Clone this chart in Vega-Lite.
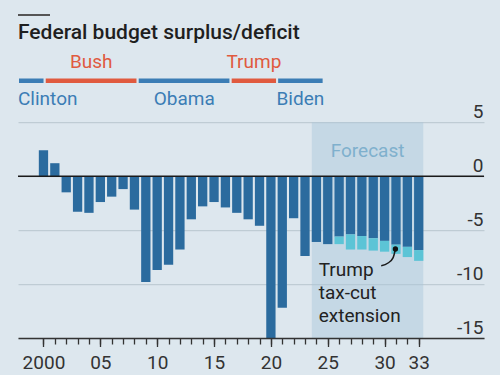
{
  "$schema": "https://vega.github.io/schema/vega-lite/v6.json",
  "background": "#dde7ee",
  "padding": {"left": 17, "right": 17, "top": 14, "bottom": 3},
  "bounds": "flush",
  "spacing": 22.6,
  "config": {"view": {"stroke": null}, "font": "Roboto"},
  "vconcat": [
    {
      "width": 32,
      "height": 2,
      "view": {"fill": "#555555", "stroke": null},
      "data": {"values": [{}]},
      "mark": {"type": "rect", "opacity": 0},
      "encoding": {}
    },
    {
      "width": 466,
      "height": 60.5,
      "title": {"text": "Federal budget surplus/deficit", "anchor": "start", "frame": "group", "baseline": "alphabetic", "offset": -21, "fontSize": 21, "fontWeight": 500, "color": "#1f1f1f", "font": "Roboto"},
      "data": {"values": [
        {"president": "Clinton", "party": "D", "start": 1998.2, "end": 2000.5},
        {"president": "Bush", "party": "R", "start": 2000.5, "end": 2008.5},
        {"president": "Obama", "party": "D", "start": 2008.5, "end": 2016.5},
        {"president": "Trump", "party": "R", "start": 2016.5, "end": 2020.5},
        {"president": "Biden", "party": "D", "start": 2020.5, "end": 2024.5}
      ]},
      "layer": [
        {
          "mark": {"type": "bar", "size": 6.5, "stroke": "#dde7ee", "strokeWidth": 2},
          "encoding": {
            "x": {"field": "start", "type": "quantitative", "scale": {"domain": [1998.2, 2038.3], "nice": false, "zero": false}, "axis": null},
            "x2": {"field": "end"},
            "y": {"datum": "term", "type": "ordinal", "scale": {"type": "point", "domain": ["R", "term", "D"], "padding": 0.644, "align": 1}, "axis": null},
            "color": {"field": "party", "type": "nominal", "scale": {"domain": ["R", "D"], "range": ["#e05a3f", "#3b7db5"]}, "legend": null}
          }
        },
        {
          "transform": [{"filter": "datum.president === 'Clinton'"}],
          "mark": {"type": "text", "align": "left", "baseline": "middle", "fontSize": 19},
          "encoding": {
            "x": {"field": "start", "type": "quantitative", "axis": null},
            "y": {"field": "party", "type": "ordinal", "axis": null},
            "text": {"field": "president"},
            "color": {"field": "party", "type": "nominal", "legend": null}
          }
        },
        {
          "transform": [{"filter": "datum.president !== 'Clinton'"}, {"calculate": "(datum.start + datum.end) / 2", "as": "mid"}],
          "mark": {"type": "text", "align": "center", "baseline": "middle", "fontSize": 19},
          "encoding": {
            "x": {"field": "mid", "type": "quantitative", "axis": null},
            "y": {"field": "party", "type": "ordinal", "axis": null},
            "text": {"field": "president"},
            "color": {"field": "party", "type": "nominal", "legend": null}
          }
        }
      ]
    },
    {
      "width": 466,
      "height": 215.8,
      "resolve": {"axis": {"x": "independent"}},
      "data": {"values": [
        {"year": 2000, "deficit": 2.4, "withExtension": null},
        {"year": 2001, "deficit": 1.2, "withExtension": null},
        {"year": 2002, "deficit": -1.5, "withExtension": null},
        {"year": 2003, "deficit": -3.3, "withExtension": null},
        {"year": 2004, "deficit": -3.4, "withExtension": null},
        {"year": 2005, "deficit": -2.4, "withExtension": null},
        {"year": 2006, "deficit": -1.9, "withExtension": null},
        {"year": 2007, "deficit": -1.2, "withExtension": null},
        {"year": 2008, "deficit": -3.1, "withExtension": null},
        {"year": 2009, "deficit": -9.8, "withExtension": null},
        {"year": 2010, "deficit": -8.7, "withExtension": null},
        {"year": 2011, "deficit": -8.2, "withExtension": null},
        {"year": 2012, "deficit": -6.8, "withExtension": null},
        {"year": 2013, "deficit": -4.0, "withExtension": null},
        {"year": 2014, "deficit": -2.8, "withExtension": null},
        {"year": 2015, "deficit": -2.4, "withExtension": null},
        {"year": 2016, "deficit": -2.9, "withExtension": null},
        {"year": 2017, "deficit": -3.4, "withExtension": null},
        {"year": 2018, "deficit": -4.0, "withExtension": null},
        {"year": 2019, "deficit": -4.6, "withExtension": null},
        {"year": 2020, "deficit": -15.0, "withExtension": null},
        {"year": 2021, "deficit": -12.2, "withExtension": null},
        {"year": 2022, "deficit": -3.9, "withExtension": null},
        {"year": 2023, "deficit": -7.4, "withExtension": null},
        {"year": 2024, "deficit": -6.1, "withExtension": null},
        {"year": 2025, "deficit": -6.3, "withExtension": null},
        {"year": 2026, "deficit": -5.6, "withExtension": -6.3},
        {"year": 2027, "deficit": -5.4, "withExtension": -6.8},
        {"year": 2028, "deficit": -5.55, "withExtension": -6.8},
        {"year": 2029, "deficit": -5.75, "withExtension": -6.9},
        {"year": 2030, "deficit": -6.0, "withExtension": -7.0},
        {"year": 2031, "deficit": -6.35, "withExtension": -7.2},
        {"year": 2032, "deficit": -6.55, "withExtension": -7.5},
        {"year": 2033, "deficit": -6.85, "withExtension": -7.85}
      ]},
      "layer": [
        {
          "data": {"values": [{"start": 2023.6, "end": 2033.4, "label": "Forecast"}]},
          "mark": {"type": "rect", "fill": "#a9c6da", "opacity": 0.45},
          "encoding": {
            "x": {"field": "start", "type": "quantitative", "title": null, "scale": {"domain": [1998.2, 2038.3], "nice": false, "zero": false},
              "axis": {
                "orient": "bottom",
                "values": [2000, 2001, 2002, 2003, 2004, 2005, 2006, 2007, 2008, 2009, 2010, 2011, 2012, 2013, 2014, 2015, 2016, 2017, 2018, 2019, 2020, 2021, 2022, 2023, 2024, 2025, 2026, 2027, 2028, 2029, 2030, 2031, 2032, 2033],
                "labels": false, "grid": false,
                "domainColor": "#333333", "domainWidth": 1.5,
                "tickColor": "#333333", "tickWidth": 1.3, "tickSize": 6,
                "title": null, "zindex": 1
              }},
            "x2": {"field": "end"},
            "y": {"datum": 5, "type": "quantitative", "title": null, "scale": {"domain": [-15, 5], "nice": false, "zero": false},
              "axis": {
                "orient": "right", "values": [5, 0, -5, -10, -15], "grid": true, "gridColor": "#b8c5ce", "gridWidth": 1,
                "domain": false, "ticks": false, "tickSize": 0, "labelAlign": "right", "labelBaseline": "alphabetic",
                "labelPadding": -1, "labelOffset": -4.5, "labelFontSize": 19, "labelColor": "#333333",
                "labelExpr": "'' + datum.value", "title": null
              }},
            "y2": {"datum": -15}
          }
        },
        {
          "data": {"values": [{"start": 2023.6, "end": 2033.4, "label": "Forecast"}]},
          "transform": [{"calculate": "(datum.start + datum.end) / 2", "as": "mid"}],
          "mark": {"type": "text", "align": "center", "baseline": "alphabetic", "fontSize": 19, "color": "#7fb0cd"},
          "encoding": {
            "x": {"field": "mid", "type": "quantitative", "axis": null},
            "y": {"datum": 1.8, "type": "quantitative", "title": null},
            "text": {"field": "label"}
          }
        },
        {
          "mark": {"type": "bar", "size": 9.3, "color": "#2b6b9e"},
          "encoding": {
            "x": {"field": "year", "type": "quantitative", "title": null,
              "axis": {
                "orient": "bottom",
                "values": [2000, 2005, 2010, 2015, 2020, 2025, 2030, 2033],
                "labelExpr": "datum.value == 2000 ? '2000' : substring('' + datum.value, 2)",
                "domain": false, "grid": false,
                "tickColor": "#333333", "tickWidth": 1.3, "tickSize": 8.5,
                "labelFontSize": 19, "labelColor": "#333333", "labelPadding": 6.5,
                "labelOverlap": false, "labelFlush": false, "title": null, "zindex": 1
              }},
            "y": {"field": "deficit", "type": "quantitative", "title": null},
            "y2": {"datum": 0}
          }
        },
        {
          "transform": [{"filter": "datum.withExtension != null"}],
          "mark": {"type": "bar", "size": 9.3, "color": "#5cc4d6"},
          "encoding": {
            "x": {"field": "year", "type": "quantitative", "axis": null},
            "y": {"field": "deficit", "type": "quantitative", "title": null},
            "y2": {"field": "withExtension"}
          }
        },
        {
          "data": {"values": [{"level": 0}]},
          "mark": {"type": "rule", "color": "#1a1a1a", "strokeWidth": 1.5},
          "encoding": {"y": {"field": "level", "type": "quantitative", "title": null}}
        },
        {
          "data": {"values": [{"note": "Trump|tax-cut|extension"}]},
          "mark": {"type": "text", "align": "left", "baseline": "alphabetic", "fontSize": 19, "lineHeight": 23, "lineBreak": "|", "color": "#222222"},
          "encoding": {
            "x": {"datum": 2024.2, "type": "quantitative", "axis": null},
            "y": {"datum": -9.29, "type": "quantitative", "title": null},
            "text": {"field": "note"}
          }
        },
        {
          "data": {"values": [{"x": 2029.7, "y": -8.3}, {"x": 2030.3, "y": -8.05}, {"x": 2030.75, "y": -7.55}, {"x": 2030.95, "y": -6.75}]},
          "mark": {"type": "line", "interpolate": "monotone", "color": "#1a1a1a", "strokeWidth": 1.5},
          "encoding": {
            "x": {"field": "x", "type": "quantitative", "axis": null},
            "y": {"field": "y", "type": "quantitative", "title": null}
          }
        },
        {
          "data": {"values": [{"x": 2030.95, "y": -6.75}]},
          "mark": {"type": "point", "filled": true, "color": "#111111", "size": 28, "opacity": 1},
          "encoding": {
            "x": {"field": "x", "type": "quantitative", "axis": null},
            "y": {"field": "y", "type": "quantitative", "title": null}
          }
        }
      ]
    }
  ]
}
